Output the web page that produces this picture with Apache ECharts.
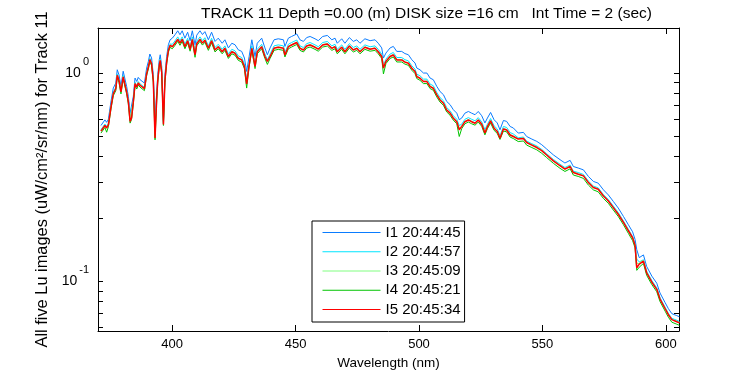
<!DOCTYPE html>
<html><head><meta charset="utf-8">
<script src="https://cdn.jsdelivr.net/npm/echarts@6/dist/echarts.min.js"></script>
<style>html,body{margin:0;padding:0;background:#fff}#c{width:750px;height:375px}</style>
</head><body><div id="c"></div>
<script>
const wavelength = [371.2,372.0,372.8,373.5,374.2,375.3,376.2,377.2,377.8,378.5,379.3,380.2,380.9,381.6,382.3,383.0,383.6,384.3,385.0,385.7,386.3,387.0,387.7,388.8,389.7,390.4,391.0,391.7,392.4,393.1,393.8,394.2,394.8,395.2,395.8,396.5,397.1,397.8,398.5,399.2,
400.1,401.2,402.3,403.2,404.1,405.2,406.3,407.3,408.2,409.3,410.0,411.3,412.3,413.3,414.7,416.0,417.4,418.7,420.3,421.4,422.8,424.2,425.5,426.8,428.2,429.3,430.2,431.2,432.3,433.0,433.6,434.5,436.3,437.6,438.6,439.7,441.3,443.0,445.1,445.7,447.1,448.4,450.5,451.8,453.2,454.5,455.9,457.9,459.2,461.0,462.9,464.7,466.0,466.9,468.7,470.0,471.8,473.4,474.8,476.1,478.1,480.2,482.2,483.5,484.9,485.6,486.6,488.3,489.6,491.0,493.0,494.3,495.7,497.1,498.4,499.1,500.4,501.8,503.2,504.5,505.8,507.2,508.5,509.9,511.2,512.6,513.9,515.3,516.3,517.3,518.6,520.0,521.3,522.7,524.0,525.4,526.7,527.7,529.0,530.4,531.7,532.8,534.2,535.5,536.9,538.2,
540.2,542.3,543.6,545.7,547.7,549.7,551.7,554.4,557.1,559.1,561.2,562.5,564.5,566.6,568.6,570.6,572.6,574.7,576.7,578.7,580.7,582.8,584.8,586.5,587.5,588.2,589.2,589.9,590.9,592.2,594.3,596.3,597.6,599.7,601.0,602.4,604.4,605.5];

const I1 = [0.56,0.565,0.596,0.58,0.60,0.736,0.847,0.895,1.037,0.98,0.863,1.02,1.0,0.863,0.772,0.642,0.654,0.772,0.946,0.911,0.953,0.93,0.929,0.895,1.057,1.137,1.234,1.18,0.98,0.608,0.816,0.98,1.158,1.224,1.076,0.586,0.98,1.2,1.367,1.444,
1.47,1.527,1.595,1.527,1.595,1.47,1.57,1.43,1.595,1.367,1.52,1.595,1.53,1.58,1.444,1.57,1.418,1.47,1.39,1.444,1.32,1.39,1.367,1.293,1.27,1.18,1.018,1.2,1.444,1.418,1.2,1.39,1.47,1.32,1.224,1.32,1.444,1.46,1.444,1.342,1.47,1.498,1.54,1.444,1.418,1.48,1.498,1.46,1.43,1.498,1.515,1.444,1.47,1.39,1.46,1.39,1.48,1.418,1.444,1.39,1.46,1.43,1.444,1.39,1.32,1.18,1.247,1.32,1.342,1.27,1.27,1.24,1.224,1.158,1.117,1.057,1.037,1.0,1.0,0.946,0.929,0.863,0.816,0.787,0.731,0.705,0.667,0.642,0.597,0.608,0.642,0.654,0.642,0.631,0.654,0.624,0.576,0.608,0.647,0.597,0.576,0.534,0.592,0.586,0.554,0.545,
0.515,0.519,0.496,0.482,0.47,0.453,0.432,0.405,0.384,0.370,0.381,0.356,0.35,0.343,0.319,0.302,0.296,0.275,0.26,0.242,0.225,0.205,0.187,0.173,0.159,0.142,0.130,0.132,0.134,0.118,0.106,0.098,0.088,0.079,0.074,0.070,0.0685,0.0676];

const I2 = [0.535,0.540,0.569,0.554,0.573,0.703,0.809,0.855,0.990,0.936,0.824,0.974,0.955,0.824,0.737,0.613,0.625,0.737,0.903,0.870,0.910,0.888,0.887,0.855,1.009,1.086,1.178,1.127,0.936,0.56,0.779,0.936,1.106,1.169,1.028,0.575,0.936,1.146,1.305,1.379,
1.374,1.428,1.491,1.428,1.491,1.374,1.468,1.337,1.491,1.27,1.421,1.491,1.431,1.477,1.350,1.468,1.326,1.374,1.300,1.350,1.234,1.300,1.278,1.209,1.187,1.103,0.93,1.122,1.350,1.326,1.11,1.300,1.374,1.234,1.16,1.234,1.350,1.365,1.350,1.255,1.374,1.401,1.440,1.350,1.326,1.384,1.401,1.365,1.337,1.401,1.417,1.350,1.374,1.300,1.365,1.300,1.384,1.326,1.350,1.300,1.365,1.337,1.350,1.300,1.234,1.09,1.166,1.234,1.255,1.187,1.187,1.159,1.144,1.083,1.044,0.988,0.970,0.935,0.935,0.885,0.869,0.807,0.763,0.736,0.683,0.659,0.624,0.600,0.56,0.568,0.600,0.611,0.600,0.590,0.611,0.583,0.535,0.568,0.605,0.558,0.539,0.50,0.554,0.548,0.518,0.510,
0.489,0.493,0.471,0.458,0.447,0.430,0.410,0.385,0.365,0.352,0.362,0.338,0.333,0.326,0.303,0.287,0.281,0.261,0.247,0.230,0.214,0.195,0.178,0.164,0.151,0.128,0.124,0.126,0.127,0.112,0.101,0.0931,0.0836,0.0751,0.0703,0.0665,0.0651,0.0642];

const I3 = [0.529,0.534,0.563,0.548,0.567,0.696,0.800,0.846,0.980,0.926,0.816,0.964,0.945,0.816,0.730,0.607,0.618,0.730,0.894,0.861,0.901,0.879,0.878,0.846,0.999,1.074,1.166,1.115,0.926,0.50,0.771,0.926,1.094,1.157,1.017,0.570,0.926,1.134,1.292,1.365,
1.345,1.397,1.459,1.397,1.459,1.345,1.437,1.308,1.459,1.24,1.391,1.459,1.400,1.446,1.321,1.437,1.297,1.345,1.272,1.321,1.208,1.272,1.251,1.183,1.162,1.080,0.90,1.098,1.321,1.297,1.09,1.272,1.345,1.208,1.14,1.208,1.321,1.336,1.321,1.228,1.345,1.371,1.409,1.321,1.297,1.354,1.371,1.336,1.308,1.371,1.386,1.321,1.345,1.272,1.336,1.272,1.354,1.297,1.321,1.272,1.336,1.308,1.321,1.272,1.208,1.07,1.141,1.208,1.228,1.162,1.162,1.135,1.120,1.060,1.022,0.967,0.949,0.915,0.915,0.866,0.850,0.790,0.747,0.720,0.669,0.645,0.610,0.587,0.545,0.556,0.587,0.598,0.587,0.577,0.598,0.571,0.522,0.556,0.592,0.546,0.527,0.49,0.542,0.536,0.507,0.499,
0.484,0.488,0.466,0.453,0.442,0.426,0.406,0.381,0.361,0.348,0.358,0.335,0.329,0.322,0.300,0.284,0.278,0.259,0.244,0.227,0.212,0.193,0.176,0.163,0.149,0.122,0.122,0.125,0.126,0.111,0.0996,0.0921,0.0827,0.0743,0.0696,0.0658,0.0644,0.0635];

const I4 = [0.515,0.520,0.548,0.52,0.552,0.677,0.779,0.823,0.954,0.902,0.794,0.938,0.92,0.794,0.710,0.575,0.60,0.710,0.870,0.838,0.877,0.856,0.855,0.823,0.972,1.046,1.135,1.086,0.902,0.478,0.751,0.902,1.065,1.126,0.990,0.560,0.902,1.104,1.258,1.328,
1.308,1.359,1.420,1.359,1.420,1.308,1.397,1.273,1.420,1.19,1.353,1.420,1.362,1.406,1.285,1.397,1.262,1.308,1.237,1.285,1.175,1.237,1.217,1.151,1.130,1.050,0.847,1.068,1.285,1.262,1.05,1.237,1.308,1.175,1.10,1.175,1.285,1.299,1.285,1.194,1.308,1.333,1.371,1.285,1.262,1.317,1.333,1.299,1.273,1.333,1.348,1.285,1.308,1.237,1.299,1.237,1.317,1.262,1.285,1.237,1.299,1.273,1.285,1.237,1.175,0.99,1.110,1.175,1.194,1.130,1.130,1.104,1.089,1.031,0.994,0.941,0.923,0.89,0.89,0.842,0.827,0.768,0.726,0.700,0.651,0.627,0.594,0.571,0.496,0.541,0.571,0.582,0.571,0.562,0.582,0.555,0.505,0.541,0.576,0.531,0.513,0.48,0.527,0.522,0.493,0.485,
0.469,0.472,0.451,0.439,0.428,0.412,0.393,0.369,0.349,0.337,0.347,0.324,0.319,0.312,0.290,0.275,0.269,0.250,0.237,0.220,0.205,0.187,0.170,0.157,0.145,0.113,0.117,0.118,0.122,0.107,0.0965,0.0892,0.0801,0.0719,0.0673,0.0637,0.0623,0.0615];

const I5 = [0.526,0.531,0.560,0.545,0.564,0.692,0.796,0.841,0.975,0.921,0.811,0.959,0.94,0.811,0.726,0.586,0.61,0.726,0.889,0.856,0.896,0.874,0.873,0.841,0.994,1.069,1.160,1.109,0.921,0.488,0.767,0.921,1.089,1.151,1.011,0.567,0.921,1.128,1.285,1.357,
1.338,1.390,1.451,1.390,1.451,1.338,1.429,1.301,1.451,1.224,1.383,1.451,1.392,1.438,1.314,1.429,1.290,1.338,1.265,1.314,1.201,1.265,1.244,1.177,1.156,1.074,0.886,1.092,1.314,1.290,1.076,1.265,1.338,1.201,1.137,1.201,1.314,1.329,1.314,1.221,1.338,1.363,1.401,1.314,1.290,1.347,1.363,1.329,1.301,1.363,1.379,1.314,1.338,1.265,1.329,1.265,1.347,1.290,1.314,1.265,1.329,1.301,1.314,1.265,1.201,1.057,1.135,1.201,1.221,1.156,1.156,1.128,1.114,1.054,1.016,0.962,0.944,0.91,0.91,0.861,0.845,0.785,0.743,0.716,0.665,0.642,0.607,0.584,0.534,0.553,0.584,0.595,0.584,0.574,0.595,0.568,0.515,0.553,0.589,0.543,0.524,0.486,0.539,0.533,0.504,0.496,
0.482,0.485,0.464,0.451,0.439,0.424,0.404,0.379,0.359,0.346,0.356,0.333,0.327,0.321,0.298,0.282,0.277,0.257,0.243,0.226,0.210,0.192,0.175,0.162,0.149,0.116,0.121,0.123,0.125,0.110,0.0991,0.0916,0.0823,0.0739,0.0692,0.0655,0.0640,0.0632];

const seriesNames = ['I1 20:44:45','I2 20:44:57','I3 20:45:09','I4 20:45:21','I5 20:45:34'];
const seriesColors = ['#0a7cff','#00e5ff','#80ff80','#00c400','#ff0000'];
const xTickValues = [400,450,500,550,600];
const yTickValues = [0.06,0.07,0.08,0.09,0.1,0.2,0.3,0.4,0.5,0.6,0.7,0.8,0.9,1];
const yLabelValues = [0.1,1];
const titleText = 'TRACK 11 Depth =0.00 (m) DISK size =16 cm   Int Time = 2 (sec)';
const xName = 'Wavelength (nm)';
const yName = 'All five Lu images (uW/cm\u00b2/sr/nm) for Track 11';

const FONT = "'Liberation Sans', Arial, Helvetica, sans-serif";
const allSeries = [I1, I2, I3, I4, I5];
const X_MIN = 370, X_MAX = 605.3, Y_MIN = 0.0578, Y_MAX = 1.645;

const chart = echarts.init(document.getElementById('c'), null, {renderer: 'canvas'});
const axisLine = {show: true, lineStyle: {color: '#000', width: 1}};
const option = {
  animation: false,
  backgroundColor: '#fff',
  title: {text: titleText, left: 196, top: 1, textStyle: {fontFamily: FONT, fontSize: 15.5, fontWeight: 'normal', color: '#000'}},
  grid: {left: 98, right: 71, top: 28, bottom: 44, containLabel: false, outerBoundsMode: 'none'},
  legend: {
    show: true, orient: 'vertical', left: 312, top: 221,
    data: seriesNames,
    itemWidth: 58, itemHeight: 14, itemGap: 4.25,
    padding: [4, 4, 5, 10],
    borderColor: '#000', borderWidth: 1, backgroundColor: '#fff',
    itemStyle: {opacity: 0, borderWidth: 0},
    lineStyle: {width: 1},
    textStyle: {fontFamily: FONT, fontSize: 15, color: '#000', lineHeight: 14},
    selectedMode: false
  },
  xAxis: [
    {type: 'value', min: X_MIN, max: X_MAX, position: 'bottom',
     name: xName, nameLocation: 'middle', nameGap: 21,
     nameTextStyle: {fontFamily: FONT, fontSize: 13.5, color: '#000'},
     axisLine: axisLine, splitLine: {show: false},
     axisTick: {show: true, inside: true, length: 6, customValues: xTickValues, lineStyle: {color: '#000'}},
     axisLabel: {show: true, customValues: xTickValues, margin: 7, fontFamily: FONT, fontSize: 13, color: '#000'}},
    {type: 'value', min: X_MIN, max: X_MAX, position: 'top',
     axisLine: axisLine, splitLine: {show: false},
     axisTick: {show: true, inside: true, length: 6, customValues: xTickValues, lineStyle: {color: '#000'}},
     axisLabel: {show: false}}
  ],
  yAxis: [
    {type: 'log', logBase: 10, min: Y_MIN, max: Y_MAX, position: 'left',
     name: yName, nameLocation: 'middle', nameGap: 31,
     nameTextStyle: {fontFamily: FONT, fontSize: 16.4, color: '#000'},
     axisLine: axisLine, splitLine: {show: false},
     axisTick: {show: true, inside: true, length: 5, customValues: yTickValues, lineStyle: {color: '#000'}},
     axisLabel: {show: true, customValues: yLabelValues, margin: 9,
       formatter: function (v) { return '{b|10}{s|' + (v > 0.5 ? '0' : '-1') + '}'; },
       rich: {
         b: {fontFamily: FONT, fontSize: 14, color: '#000'},
         s: {fontFamily: FONT, fontSize: 11, color: '#000', padding: [0, 0, 22, 2]}
       }}},
    {type: 'log', logBase: 10, min: Y_MIN, max: Y_MAX, position: 'right',
     axisLine: axisLine, splitLine: {show: false},
     axisTick: {show: true, inside: true, length: 5, customValues: yTickValues, lineStyle: {color: '#000'}},
     axisLabel: {show: false}}
  ],
  series: allSeries.map(function (vals, k) {
    return {
      name: seriesNames[k], type: 'line', xAxisIndex: 0, yAxisIndex: 0,
      data: wavelength.map(function (w, i) { return [w, vals[i]]; }),
      symbol: 'none', showSymbol: false, clip: true,
      color: seriesColors[k],
      lineStyle: {color: seriesColors[k], width: k === 4 ? 1.5 : 1},
      z: 2 + k
    };
  })
};
chart.setOption(option);
</script></body></html>
